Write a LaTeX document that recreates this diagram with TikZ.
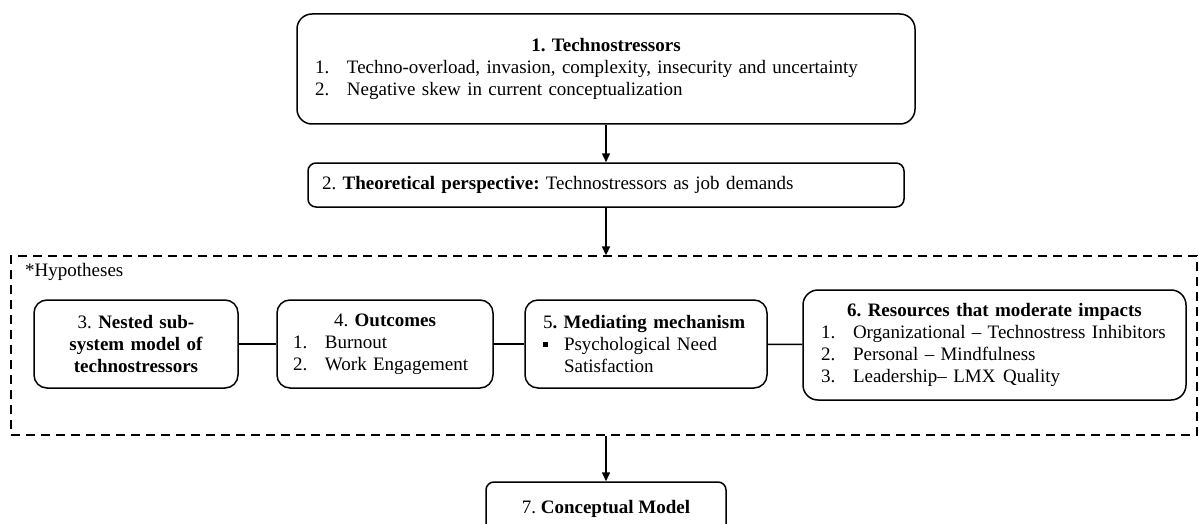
\documentclass[tikz,border=0pt]{standalone}
\usepackage{fontspec}
\setmainfont{Liberation Serif}
\usetikzlibrary{arrows.meta}
\frenchspacing
\newcommand{\itm}[1]{\makebox[32pt][l]{#1}}
\newcommand{\ctr}[1]{\makebox[\hsize]{#1}}

\begin{document}
\begin{tikzpicture}[x=1pt,y=-1pt,
		font=\fontsize{19}{22}\selectfont\frenchspacing,
		box/.style={draw,line width=1.5pt,rounded corners=13pt,inner ysep=0pt,minimum height=88pt,align=left},
		link/.style={line width=1.5pt},
		arr/.style={line width=1.5pt,-{Triangle[length=9pt,width=8pt]}}]
			\useasboundingbox (0,0) rectangle (1199,524);

			\node[box,rounded corners=15pt,minimum height=110pt,text width=582pt,inner xsep=18pt] (techno) at (606,69)
				{\ctr{\textbf{1. Technostressors}}\\ \itm{1.}Techno-overload, invasion, complexity, insecurity and uncertainty\\ \itm{2.}Negative skew in current conceptualization};
			\node[box,rounded corners=8pt,minimum height=44pt,text width=568pt,inner xsep=14pt] (theory) at (606,185)
				{2. \textbf{Theoretical perspective:} Technostressors as job demands};

			\node[draw,line width=1.3pt,dash pattern=on 9pt off 6pt,minimum width=1186pt,minimum height=179pt] (hyp) at (604,345.5) {};
			\node[right,inner sep=0pt] (hyplabel) at (25,272) {*Hypotheses};

			\node[box,align=center,text width=180pt,inner xsep=12pt] (nested) at (136,344)
				{3. \textbf{Nested sub-}\\ \textbf{system model of}\\ \textbf{technostressors}};
			\node[box,text width=184pt,inner xsep=16pt] (outcomes) at (385,344)
				{\ctr{4. \textbf{Outcomes}}\\ \itm{1.}Burnout\\ \itm{2.}Work Engagement};
			\node[box,text width=206pt,inner xsep=18pt] (mediating) at (646,344)
				{\mbox{5\textbf{. Mediating mechanism}}\\ \makebox[21pt][l]{\raisebox{3.5pt}{\rule{5pt}{5pt}}}Psychological Need\\ \hspace*{21pt}Satisfaction};
			\node[box,rounded corners=15pt,minimum height=110pt,text width=347pt,inner xsep=18pt] (resources) at (994.5,345)
				{\ctr{\textbf{6. Resources that moderate impacts}}\\ \itm{1.}\mbox{Organizational -- Technostress Inhibitors}\\ \itm{2.}Personal -- Mindfulness\\ \itm{3.}Leadership-- LMX\hspace{0.4em}Quality};

			\node[box,rounded corners=8pt,align=center,minimum width=240pt,minimum height=53pt] (model) at (606,508.5)
				{7. \textbf{Conceptual Model}};

			\draw[arr] (techno) -- (theory);
			\draw[arr] (theory) -- (theory |- hyp.north);
			\draw[arr] (hyp.south -| model) -- (model);
			\draw[link] (nested) -- (outcomes);
			\draw[link] (outcomes) -- (mediating);
			\draw[link] (mediating) -- (resources);
		\end{tikzpicture}
\end{document}
